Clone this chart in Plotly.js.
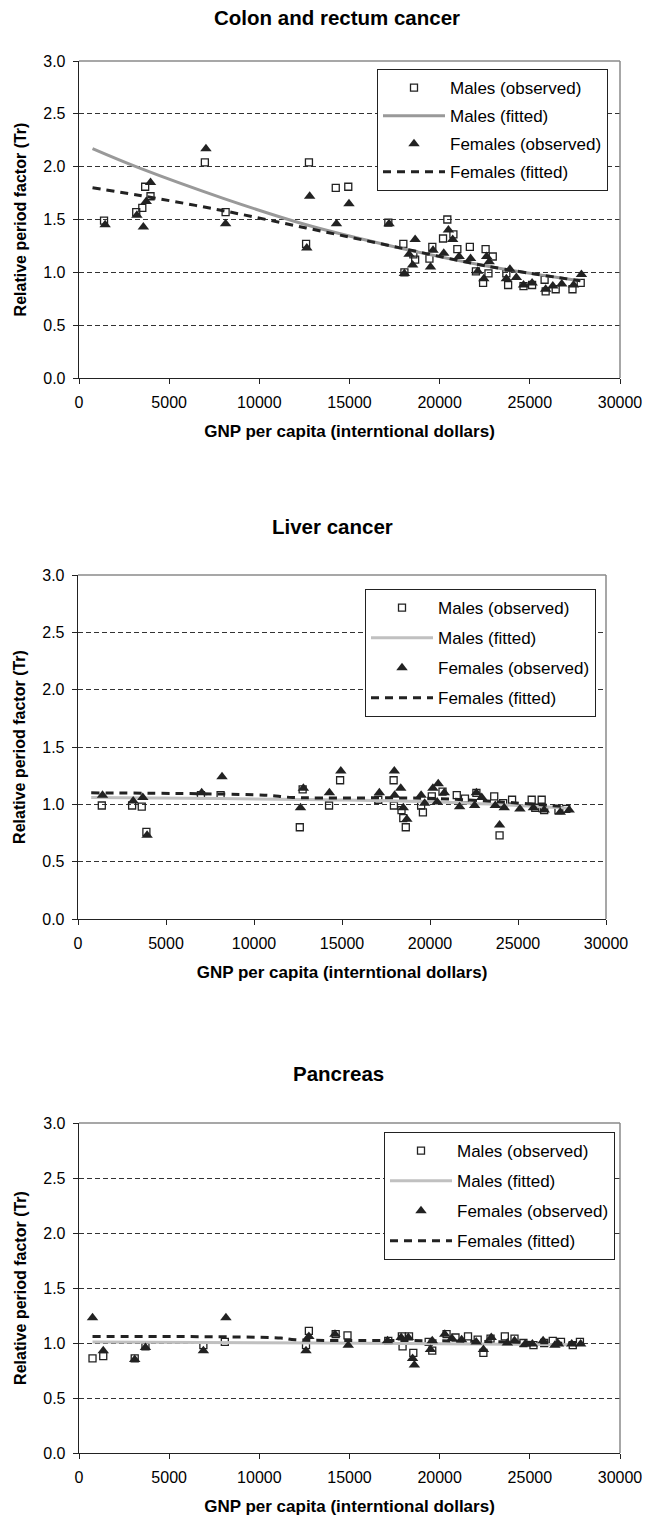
<!DOCTYPE html>
<html>
<head>
<meta charset="utf-8">
<script src="https://cdn.plot.ly/plotly-3.0.1.min.js"></script>
<style>html,body{margin:0;padding:0;background:#fff;}#chart{width:646px;height:1524px;}</style>
</head>
<body>
<div id="chart"></div>
<script>
// ---------- Data ----------
const chartTitles = ["Colon and rectum cancer", "Liver cancer", "Pancreas"];
const seriesNames = ["Males (observed)", "Males (fitted)", "Females (observed)", "Females (fitted)"];
const xTitle = "GNP per capita (interntional dollars)";
const yTitle = "Relative period factor (Tr)";
const xTicks = [0, 5000, 10000, 15000, 20000, 25000, 30000];
const xTickText = ["0", "5000", "10000", "15000", "20000", "25000", "30000"];
const yTicks = [0, 0.5, 1.0, 1.5, 2.0, 2.5, 3.0];
const yTickText = ["0.0", "0.5", "1.0", "1.5", "2.0", "2.5", "3.0"];

// Colon and rectum
const colonMalesX = [1388,3173,3510,3669,3966,6980,8130,12592,12751,14238,14932,17153,17986,18045,18541,18640,19433,19592,20187,20425,20762,20980,21674,22011,22408,22547,22706,22944,23697,23796,24649,25125,25819,25878,26434,27365,27821];
const colonMalesY = [1.49,1.57,1.61,1.81,1.72,2.04,1.57,1.27,2.04,1.80,1.81,1.47,1.27,1.00,1.17,1.12,1.13,1.24,1.32,1.50,1.36,1.22,1.24,1.01,0.90,1.22,0.99,1.15,0.99,0.88,0.87,0.88,0.93,0.82,0.84,0.84,0.90];
const colonFemalesX = [1448,3212,3569,3728,3966,7040,8130,12632,12791,14277,14971,17192,18045,18303,18501,18640,19493,19632,20227,20485,20722,21079,21714,22110,22448,22606,22745,23697,23896,24253,24649,25125,25878,26274,26770,27425,27861];
const colonFemalesY = [1.45,1.54,1.43,1.67,1.85,2.17,1.46,1.23,1.72,1.46,1.65,1.46,0.99,1.17,1.07,1.31,1.05,1.21,1.18,1.40,1.31,1.15,1.13,1.01,0.94,1.15,1.10,0.94,1.03,0.95,0.88,0.90,0.84,0.87,0.89,0.88,0.98];
const colonMalesFitX = [750,3300,8000,12600,17300,22600,27800];
const colonMalesFitY = [2.17,1.99,1.70,1.45,1.25,1.06,0.92];
const colonFemalesFitX = [750,3300,7800,12600,17300,22600,27800];
const colonFemalesFitY = [1.80,1.73,1.59,1.42,1.25,1.06,0.92];

// Liver
const liverMalesX = [1352,3075,3622,3886,6987,8102,12602,12764,14264,14892,17061,17933,17950,18381,18482,18624,19496,19597,20102,20710,21521,21987,22636,23649,23953,24156,24663,25778,25981,26346,26488,27299,27745];
const liverMalesY = [0.99,0.99,0.98,0.76,1.08,1.08,0.80,1.13,0.99,1.21,1.04,1.21,0.99,0.95,0.88,0.80,0.99,0.93,1.07,1.11,1.08,1.05,1.10,1.07,0.73,1.01,1.04,1.04,0.97,1.04,0.95,0.95,0.96];
const liverFemalesX = [1392,3136,3683,3926,7028,8183,12642,12805,14284,14933,17122,17973,17990,18338,18482,18684,19496,19698,20164,20407,20467,20812,21683,22535,22636,22940,23710,23953,24217,25109,25879,26488,27400,27907];
const liverFemalesY = [1.08,1.03,1.06,0.73,1.10,1.24,0.97,1.14,1.10,1.29,1.10,1.29,1.08,1.14,0.97,0.87,1.08,1.01,1.14,1.02,1.18,1.10,0.98,0.99,1.10,1.06,0.99,0.82,0.97,0.96,0.97,0.95,0.93,0.95];
const liverMalesFitX = [750,8000,14000,20500,27900];
const liverMalesFitY = [1.06,1.05,1.04,1.02,0.965];
const liverFemalesFitX = [750,10600,12200,20500,27700];
const liverFemalesFitY = [1.10,1.08,1.06,1.05,0.98];

// Pancreas
const pancMalesX = [750,1345,3090,3685,6897,8087,12588,12747,14234,14889,17149,17903,17943,18300,18538,19390,19589,20382,20878,21572,22108,22425,22821,23614,24150,24645,25201,25796,26272,26728,27382,27778];
const pancMalesY = [0.86,0.88,0.86,0.97,0.98,1.01,0.98,1.11,1.08,1.07,1.02,1.06,0.97,1.06,0.91,1.01,0.93,1.08,1.05,1.06,1.03,0.91,1.04,1.06,1.04,1.00,0.98,1.00,1.02,1.01,0.98,1.01];
const pancFemalesX = [750,1345,3090,3685,6897,8147,12588,12747,14194,14929,17109,17863,18260,18498,18597,19489,19589,20283,20680,21215,22028,22425,22861,23753,24150,24744,25141,25736,26390,26589,27322,27818];
const pancFemalesY = [1.23,0.93,0.85,0.96,0.93,1.23,0.93,1.06,1.08,0.98,1.02,1.05,1.05,0.86,0.80,0.94,1.02,1.08,1.04,1.03,1.01,0.94,1.05,1.00,1.02,0.99,0.99,1.02,0.98,0.99,0.99,0.99];
const pancMalesFitX = [750,14000,27800];
const pancMalesFitY = [1.01,1.00,0.985];
const pancFemalesFitX = [750,11200,12000,20000,27800];
const pancFemalesFitY = [1.06,1.045,1.03,1.02,0.995];

// ---------- Build ----------
const FONT = "Liberation Sans, Arial, Helvetica, sans-serif";
const W = 646, H = 1524;
// plot areas in pixels: [left, right, top, bottom]
const boxes = [[79, 620, 61, 378], [78, 606, 575, 919], [79, 620, 1123, 1453]];
const legendPos = [[608, 69], [596, 589], [615, 1132]];
const legendGaps = [3, 5, 5];
const titlePos = [[337, 17], [332, 526], [339, 1073]];
const maleFitColors = ["#999999", "#c0c0c0", "#c0c0c0"];

const sets = [
  [colonMalesX, colonMalesY, colonMalesFitX, colonMalesFitY, colonFemalesX, colonFemalesY, colonFemalesFitX, colonFemalesFitY],
  [liverMalesX, liverMalesY, liverMalesFitX, liverMalesFitY, liverFemalesX, liverFemalesY, liverFemalesFitX, liverFemalesFitY],
  [pancMalesX, pancMalesY, pancMalesFitX, pancMalesFitY, pancFemalesX, pancFemalesY, pancFemalesFitX, pancFemalesFitY]
];

const traces = [];
const layout = {
  width: W, height: H,
  margin: {l: 0, r: 0, t: 0, b: 0},
  paper_bgcolor: "#fff", plot_bgcolor: "#fff",
  font: {family: FONT, color: "#000"},
  showlegend: true,
  annotations: [], shapes: []
};

sets.forEach((s, i) => {
  const k = i === 0 ? "" : String(i + 1);
  const xa = "x" + k, ya = "y" + k, lg = "legend" + k;
  const common = {xaxis: xa, yaxis: ya, legend: lg, hoverinfo: "skip"};
  traces.push(Object.assign({type: "scatter", mode: "markers", x: s[0], y: s[1], name: seriesNames[0], legendgroup: "a" + i,
    marker: {symbol: "square-open", size: 7, color: "#222", line: {width: 1.3, color: "#222"}}}, common));
  traces.push(Object.assign({type: "scatter", mode: "lines", x: s[2], y: s[3], name: seriesNames[1], legendgroup: "b" + i,
    line: {color: maleFitColors[i], width: 3, shape: "spline"}}, common));
  traces.push(Object.assign({type: "scatter", mode: "markers", x: s[4], y: s[5], name: seriesNames[2], legendgroup: "c" + i,
    marker: {symbol: "triangle-up", size: 10, color: "#222"}}, common));
  traces.push(Object.assign({type: "scatter", mode: "lines", x: s[6], y: s[7], name: seriesNames[3], legendgroup: "d" + i,
    line: {color: "#222", width: 3, dash: "8px,6px", shape: "spline"}}, common));

  const b = boxes[i];
  layout["xaxis" + k] = {
    domain: [b[0] / W, b[1] / W], anchor: ya, range: [0, 30000],
    tickvals: xTicks, ticktext: xTickText, tickfont: {size: 16, family: FONT, color: "#000"},
    ticks: "outside", ticklen: 5, tickcolor: "#222", tickwidth: 1,
    showline: true, linecolor: "#222", linewidth: 1.3, showgrid: false, zeroline: false,
    ticklabelstandoff: 4,
    title: {text: xTitle, font: {size: 17, family: FONT, weight: "bold", color: "#000"}, standoff: 15},
    fixedrange: true
  };
  layout["yaxis" + k] = {
    domain: [1 - b[3] / H, 1 - b[2] / H], anchor: xa, range: [0, 3],
    tickvals: yTicks, ticktext: yTickText, tickfont: {size: 16, family: FONT, color: "#000"},
    ticks: "outside", ticklen: 5, tickcolor: "#222", tickwidth: 1,
    showline: true, linecolor: "#222", linewidth: 1.3,
    showgrid: true, gridcolor: "#333", gridwidth: 1, griddash: "5px,3px", zeroline: false,
    ticklabelstandoff: 4,
    title: {text: yTitle, font: {size: 16, family: FONT, weight: "bold", color: "#000"}, standoff: 12},
    fixedrange: true
  };
  layout[lg] = {
    x: legendPos[i][0] / W, y: 1 - legendPos[i][1] / H, xanchor: "right", yanchor: "top",
    xref: "paper", yref: "paper",
    bgcolor: "#fff", bordercolor: "#222", borderwidth: 1,
    font: {size: 17, family: FONT, color: "#000"},
    itemwidth: 62, tracegroupgap: legendGaps[i], traceorder: "grouped"
  };
  // gray plot-area border on top and right
  layout.shapes.push({type: "line", xref: xa + " domain", yref: ya + " domain", x0: 0, x1: 1, y0: 1, y1: 1,
    line: {color: "#8a8a8a", width: 1.5}, layer: "above"});
  layout.shapes.push({type: "line", xref: xa + " domain", yref: ya + " domain", x0: 1, x1: 1, y0: 0, y1: 1,
    line: {color: "#8a8a8a", width: 1.5}, layer: "above"});
  layout.annotations.push({text: chartTitles[i], xref: "paper", yref: "paper",
    x: titlePos[i][0] / W, y: 1 - titlePos[i][1] / H, xanchor: "center", yanchor: "middle", showarrow: false,
    font: {size: 20.5, family: FONT, weight: "bold", color: "#000"}});
});

Plotly.newPlot("chart", traces, layout, {staticPlot: true, displayModeBar: false});
</script>
</body>
</html>
